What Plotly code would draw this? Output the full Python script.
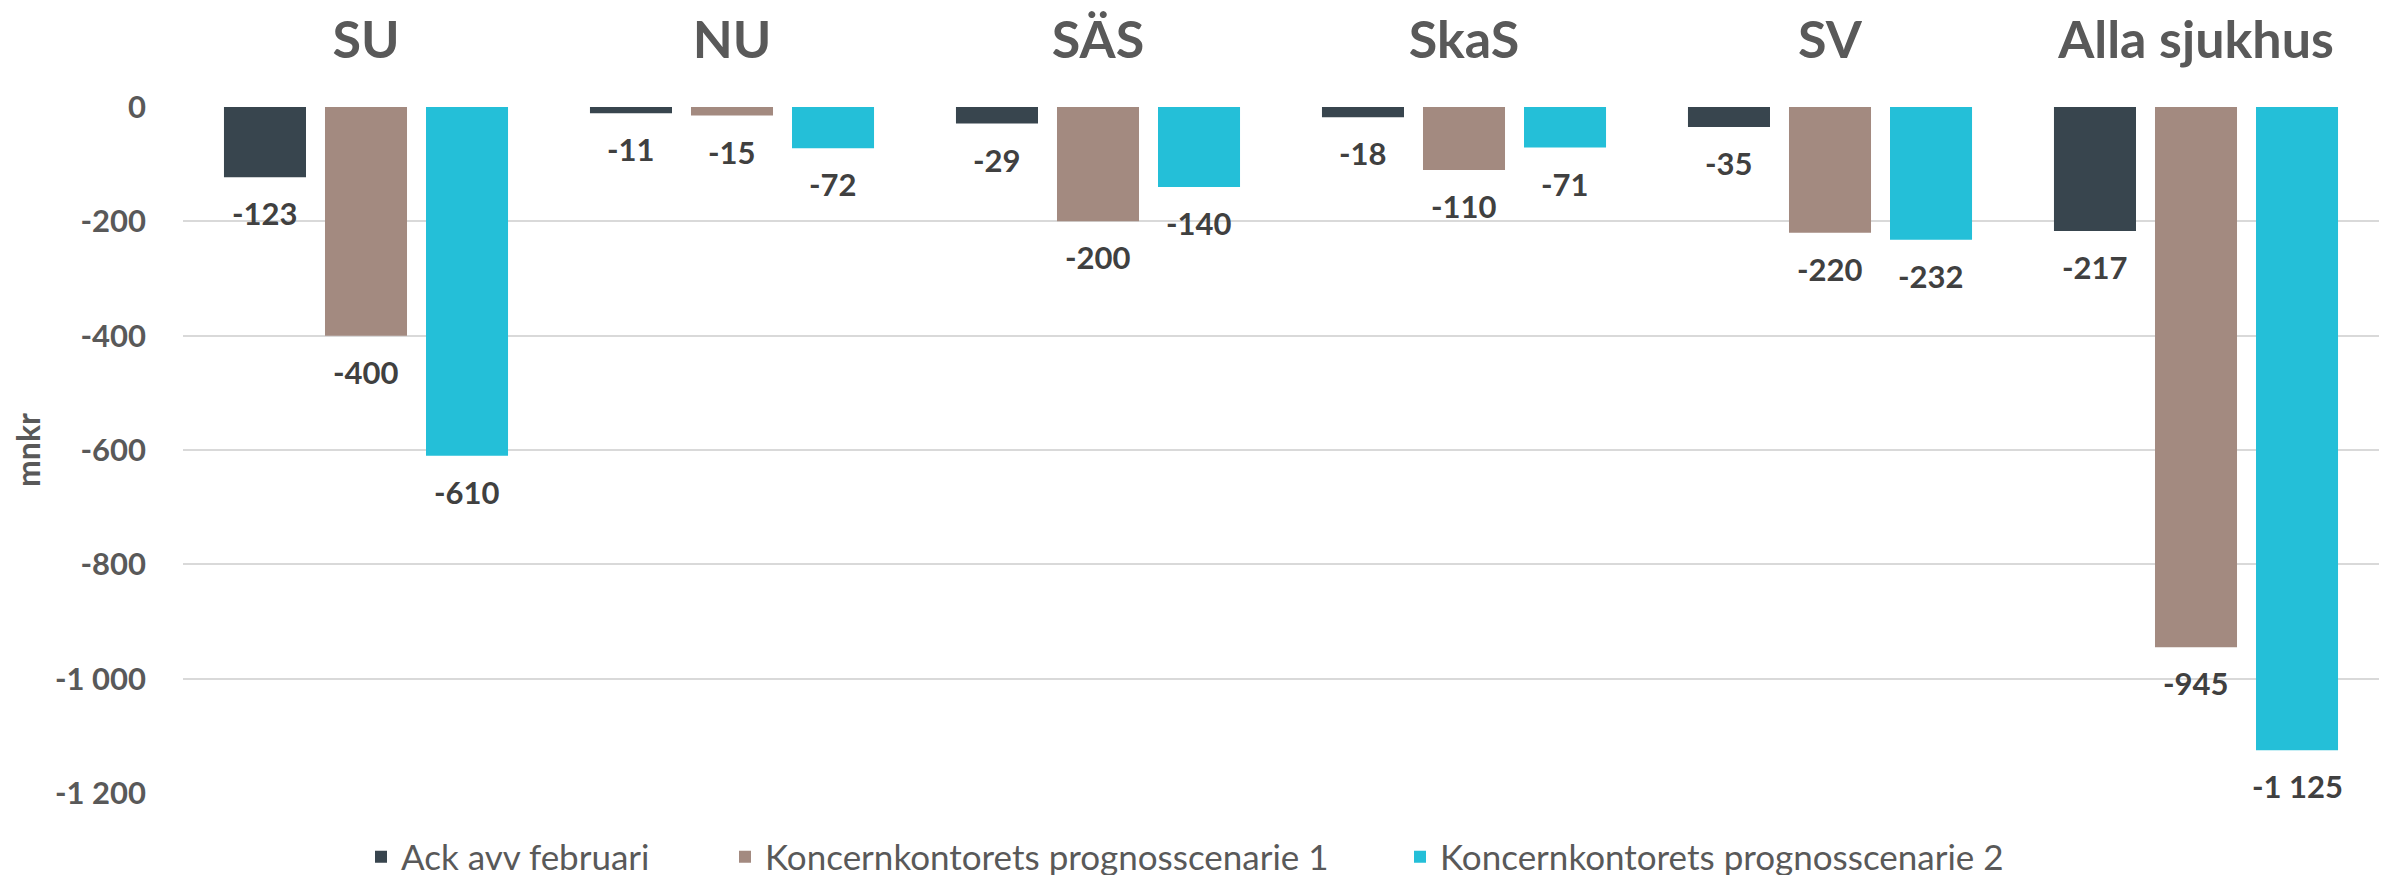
import plotly.graph_objects as go

categories = ["SU", "NU", "SÄS", "SkaS", "SV", "Alla sjukhus"]
series_names = ["Ack avv februari", "Koncernkontorets prognosscenarie 1", "Koncernkontorets prognosscenarie 2"]
ack_feb = [-123, -11, -29, -18, -35, -217]
scen1 = [-400, -15, -200, -110, -220, -945]
scen2 = [-610, -72, -140, -71, -232, -1125]
colors = ["#38454e", "#a38a80", "#24bfd8"]

tick_vals = [0, -200, -400, -600, -800, -1000, -1200]
tick_text = ["0", "-200", "-400", "-600", "-800", "-1 000", "-1 200"]

FONT = "Lato"
series = [ack_feb, scen1, scen2]
legend_ids = ["legend", "legend2", "legend3"]

W, H = 2395, 875

fig = go.Figure()
for name, vals, col, lg in zip(series_names, series, colors, legend_ids):
    fig.add_trace(go.Bar(
        x=categories, y=vals, name=name, legend=lg,
        marker=dict(color=col, line=dict(width=0)),
    ))

# data labels below each bar end
bar_pitch = 101
for i, vals in enumerate(series):
    for cat, v in zip(categories, vals):
        txt = f"{v:,}".replace(",", " ")
        fig.add_annotation(
            x=cat, y=v, xref="x", yref="y",
            text=txt, showarrow=False,
            xshift=(i - 1) * bar_pitch, yshift=-36,
            yanchor="middle", xanchor="center",
            font=dict(family=FONT, size=31, color="#404040", weight="bold"),
        )

def legend_box(x_px):
    return dict(
        orientation="h", xref="container", yref="container",
        x=x_px / W, xanchor="left", y=26 / H, yanchor="middle",
        font=dict(family=FONT, size=35, color="#595959"),
        bgcolor="rgba(0,0,0,0)", borderwidth=0,
    )

fig.update_layout(
    width=W, height=H,
    paper_bgcolor="white", plot_bgcolor="white",
    margin=dict(l=175, r=24, t=99, b=90, autoexpand=False),
    barmode="group", bargap=0.172, bargroupgap=0.188,
    font=dict(family=FONT, color="#595959"),
    showlegend=True,
    legend=legend_box(353),
    legend2=legend_box(717),
    legend3=legend_box(1392),
    xaxis=dict(
        side="top", showgrid=False, zeroline=False, showline=False,
        ticks="", ticklabelstandoff=38, automargin=False,
        tickfont=dict(family=FONT, size=52, color="#595959", weight="bold"),
    ),
    yaxis=dict(
        range=[-1200, 0], tickvals=tick_vals, ticktext=tick_text,
        showgrid=True, gridcolor="#d9d9d9", gridwidth=2,
        zeroline=False, showline=False, ticks="",
        ticklabelstandoff=36, automargin=False,
        tickfont=dict(family=FONT, size=31, color="#595959", weight="bold"),
        title=dict(text="mnkr", standoff=16,
                   font=dict(family=FONT, size=32, color="#595959", weight="bold")),
    ),
)

fig.write_html("out.html")
